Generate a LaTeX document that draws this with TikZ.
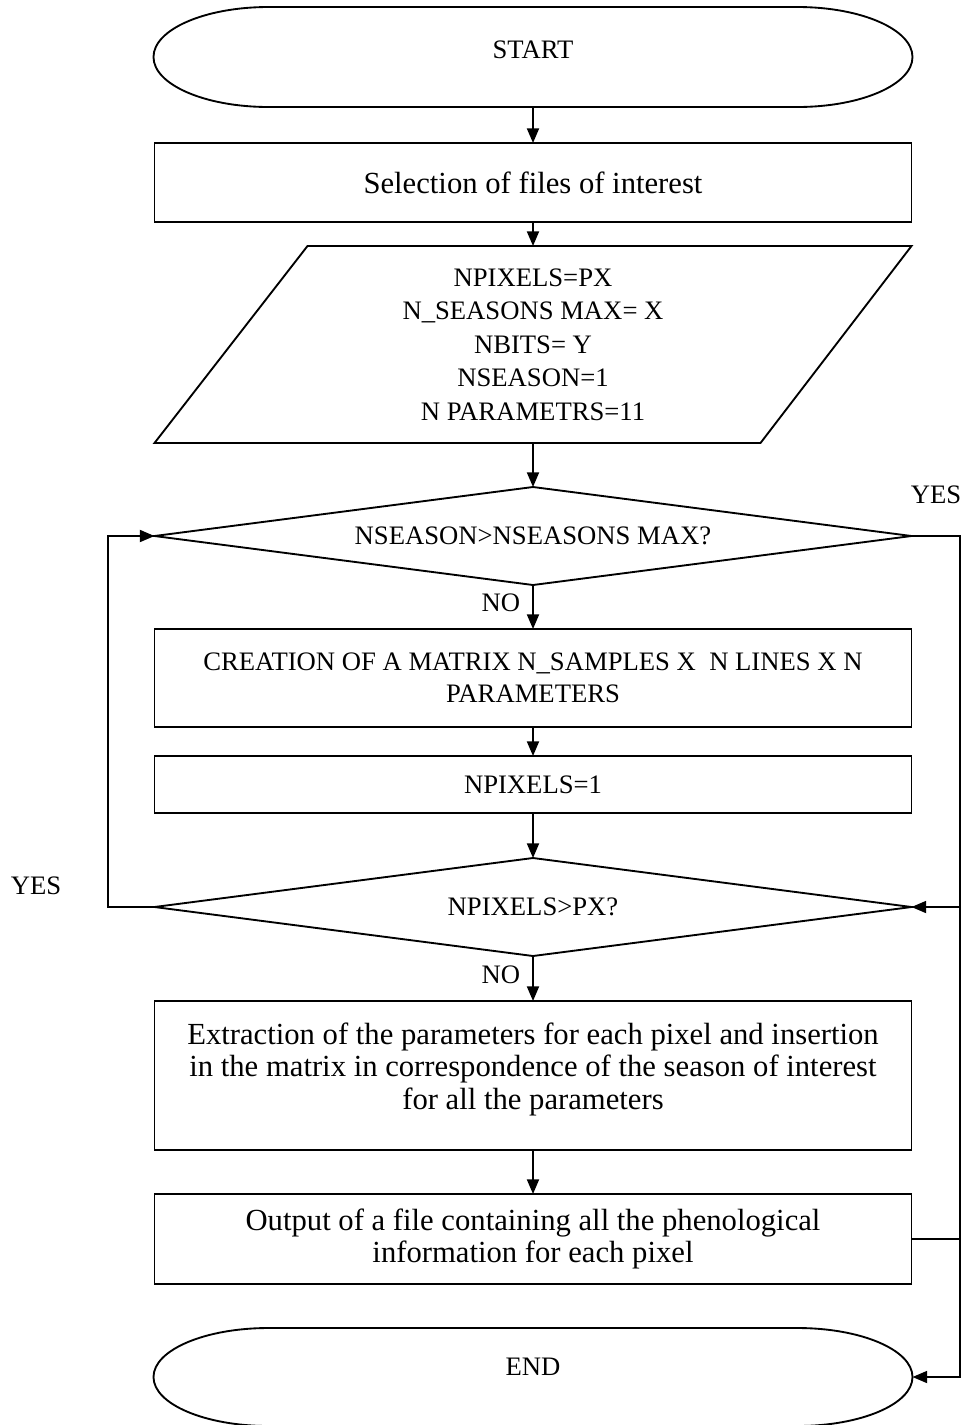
\documentclass[tikz,border=0pt]{standalone}
\usepackage{fontspec}
\setmainfont{Liberation Serif}
\usetikzlibrary{arrows.meta,calc}
\begin{document}
\begin{tikzpicture}[x=0.75pt,y=-0.75pt,
  line/.style={line width=1.4pt},
  arr/.style={line width=1.4pt,-{Triangle[length=11pt,width=9pt]}},
  capf/.style={font=\fontsize{20}{25.1}\selectfont},
  capg/.style={font=\fontsize{20}{24}\selectfont},
  lowf/.style={font=\fontsize{23}{24.4}\selectfont},
  ghost/.style={draw=none,inner sep=0pt,outer sep=0pt,minimum width=567.75pt},
  box/.style={draw,line width=1.4pt,inner sep=0pt,outer sep=0pt,minimum width=567.75pt},
  lbl/.style={font=\fontsize{20}{24}\selectfont,inner sep=0pt}
]
\useasboundingbox (0,0) rectangle (966,1425);

% START
\node[ghost,capf,minimum width=569.25pt,minimum height=75pt,text height=14pt,text depth=11.3pt] (start) at (533,57) {START};
\draw[line] ($(start.north west)+(115,0)$) -- ($(start.north east)+(-115,0)$)
  arc[start angle=90,end angle=-90,x radius=86.25pt,y radius=37.5pt]
  -- ($(start.south west)+(115,0)$)
  arc[start angle=270,end angle=90,x radius=86.25pt,y radius=37.5pt] -- cycle;

\node[box,lowf,minimum height=59.25pt] (b1) at (533,182.5) {Selection of files of interest};

% parallelogram
\node[ghost,capf,align=center,minimum height=147.75pt] (para) at (533,344.5)
  {NPIXELS=PX\\N\_SEASONS MAX= X\\NBITS= Y\\NSEASON=1\\N PARAMETRS=11};
\draw[line] ($(para.north west)+(153,0)$) -- (para.north east) -- ($(para.south east)+(-151,0)$) -- (para.south west) -- cycle;

% decision 1
\node[ghost,capf,minimum height=73.5pt] (d1) at (533,536) {NSEASON>NSEASONS MAX?};
\draw[line] (d1.north) -- (d1.east) -- (d1.south) -- (d1.west) -- cycle;

\node[box,capg,align=center,minimum height=73.5pt] (b2) at (533,678)
  {CREATION OF A MATRIX N\_SAMPLES X~ N LINES X N\\PARAMETERS};
\node[box,capf,minimum height=42.75pt] (b3) at (533,784.5) {NPIXELS=1};

% decision 2
\node[ghost,capf,minimum height=73.5pt] (d2) at (533,907) {NPIXELS>PX?};
\draw[line] (d2.north) -- (d2.east) -- (d2.south) -- (d2.west) -- cycle;

\node[box,lowf,align=center,minimum height=111.75pt] (b4) at (533,1075.5)
  {Extraction of the parameters for each pixel and insertion\\in the matrix in correspondence of the season of interest\\for all the parameters\\[-10pt]\mbox{}};
\node[box,lowf,align=center,minimum height=67.5pt] (b5) at (533,1239)
  {Output of a file containing all the phenological\\information for each pixel};

% END
\node[ghost,capf,minimum width=569.25pt,minimum height=73.5pt,text height=14pt,text depth=15.8pt] (end) at (533,1377) {END};
\draw[line] ($(end.north west)+(115,0)$) -- ($(end.north east)+(-115,0)$)
  arc[start angle=90,end angle=-90,x radius=86.25pt,y radius=36.75pt]
  -- ($(end.south west)+(115,0)$)
  arc[start angle=270,end angle=90,x radius=86.25pt,y radius=36.75pt] -- cycle;

% labels
\node[lbl] (no1) at (501,603) {NO};
\node[lbl] (no2) at (501,975) {NO};
\node[lbl] (yes1) at (936,495) {YES};
\node[lbl] (yes2) at (36,886) {YES};

\coordinate (rr) at (960,536);
\coordinate (ll) at (108,907);

% connectors
\draw[arr] (start.south) -- (b1.north);
\draw[arr] (b1.south) -- (para.north);
\draw[arr] (para.south) -- (d1.north);
\draw[arr] (d1.south) -- (b2.north);
\draw[arr] (b2.south) -- (b3.north);
\draw[arr] (b3.south) -- (d2.north);
\draw[arr] (d2.south) -- (b4.north);
\draw[arr] (b4.south) -- (b5.north);
\draw[arr] (d1.east) -- (d1.east -| rr) |- (end.east);
\draw[arr] (b5.east) -- (b5.east -| rr) |- (d2.east);
\draw[arr] (d2.west) -- (d2.west -| ll) |- (d1.west);
\end{tikzpicture}
\end{document}
